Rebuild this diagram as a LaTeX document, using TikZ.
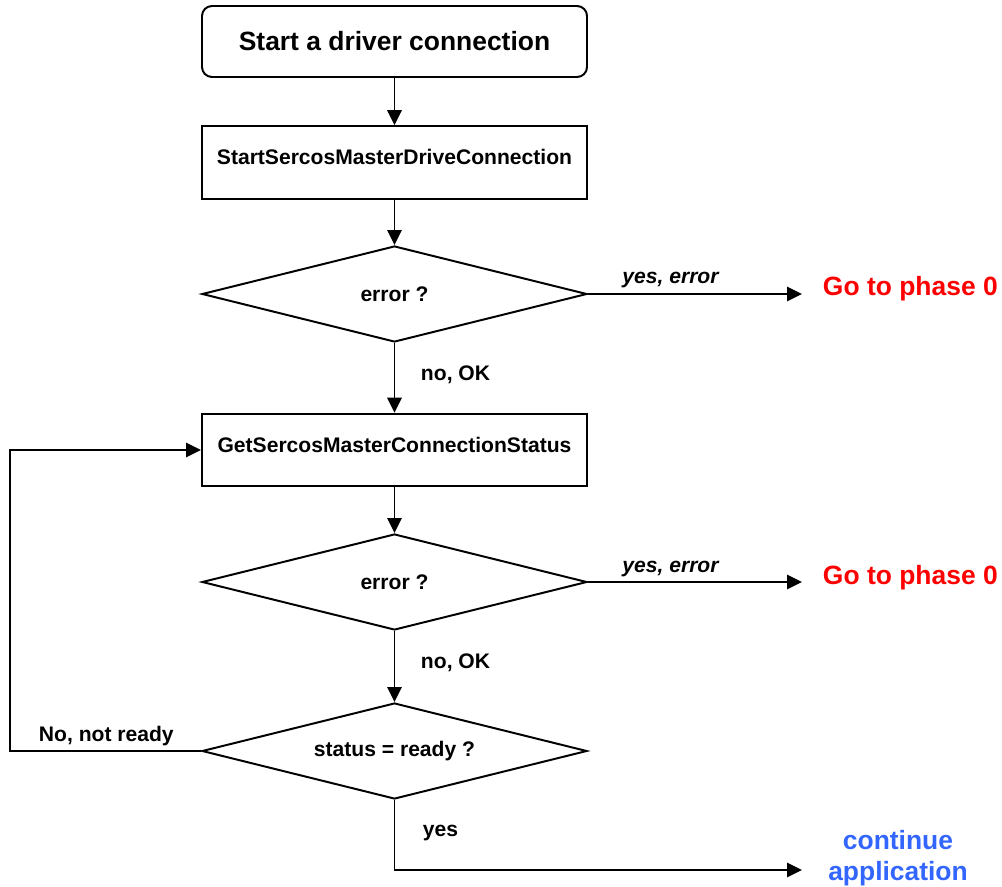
\documentclass[tikz,border=0pt]{standalone}
\usepackage{fontspec}
\setmainfont{Liberation Sans}
\usetikzlibrary{shapes.geometric,arrows.meta,positioning}

\definecolor{appblue}{RGB}{51,102,255}

\tikzset{
  startbox/.style={draw, rounded corners=2.5mm, minimum width=96.25mm, minimum height=17.75mm,
    font=\fontsize{18.8}{22}\selectfont\bfseries},
  procbox/.style={draw, minimum width=96.25mm, minimum height=18.2mm,
    text height=0.75em, text depth=0.43em, font=\fontsize{15}{18}\selectfont\bfseries},
  decision/.style={draw, diamond, shape aspect=4, inner sep=0pt, minimum width=96.25mm,
    minimum height=24mm, font=\fontsize{15}{18}\selectfont\bfseries},
  lbl/.style={inner sep=0pt, font=\fontsize{15}{18}\selectfont\bfseries},
  goto/.style={inner xsep=5mm, inner ysep=0pt, font=\fontsize{18.8}{22}\selectfont\bfseries},
  arr/.style={-{Triangle[length=3.75mm,width=3.6mm]}}
}

\begin{document}
\begin{tikzpicture}[x=0.25mm, y=-0.25mm, line width=1.4pt]
\useasboundingbox (0,0) rectangle (1002,886);

% main column
\node[startbox] (start) at (394.5,41.5) {Start a driver connection};
\node[procbox] (sdc) at (394.5,162.5) {StartSercosMasterDriveConnection};
\node[decision] (err1) at (394.5,294) {error ?};
\node[procbox] (gcs) at (394.5,450) {GetSercosMasterConnectionStatus};
\node[decision] (err2) at (394.5,582) {error ?};
\node[decision] (ready) at (394.5,751) {status = ready ?};

% exits
\node[goto, text=red, anchor=base west] (phase1) at (802,295) {Go to phase 0};
\node[goto, text=red, anchor=base west] (phase2) at (802,584) {Go to phase 0};
\node[goto, text=appblue, align=center] (cont) at (898,858) {continue\\application};
\coordinate (appin) at (802,870);
\coordinate (back) at (10,751);

\draw[arr] (start) -- (sdc);
\draw[arr] (sdc) -- (err1);
\draw[arr] (err1.east) -- (err1.east -| phase1.west);
\draw[arr] (err1) -- (gcs);
\draw[arr] (gcs) -- (err2);
\draw[arr] (err2.east) -- (err2.east -| phase2.west);
\draw[arr] (err2) -- (ready);
\draw[arr] (ready.west) -- (back) |- (gcs.west);
\draw[arr] (ready.south) |- (appin);

% branch labels
\node[lbl, font=\fontsize{15}{18}\selectfont\bfseries\itshape, anchor=base] (yerr1) at (670.5,283) {yes, error};
\node[lbl, font=\fontsize{15}{18}\selectfont\bfseries\itshape, anchor=base] (yerr2) at (670.5,572) {yes, error};
\node[lbl, anchor=base west] (ok1) at (420,380) {no, OK};
\node[lbl, anchor=base west] (ok2) at (420,668) {no, OK};
\node[lbl, anchor=base west] (notready) at (38,741) {No, not ready};
\node[lbl, anchor=base west] (yes) at (422,836) {yes};
\end{tikzpicture}
\end{document}
